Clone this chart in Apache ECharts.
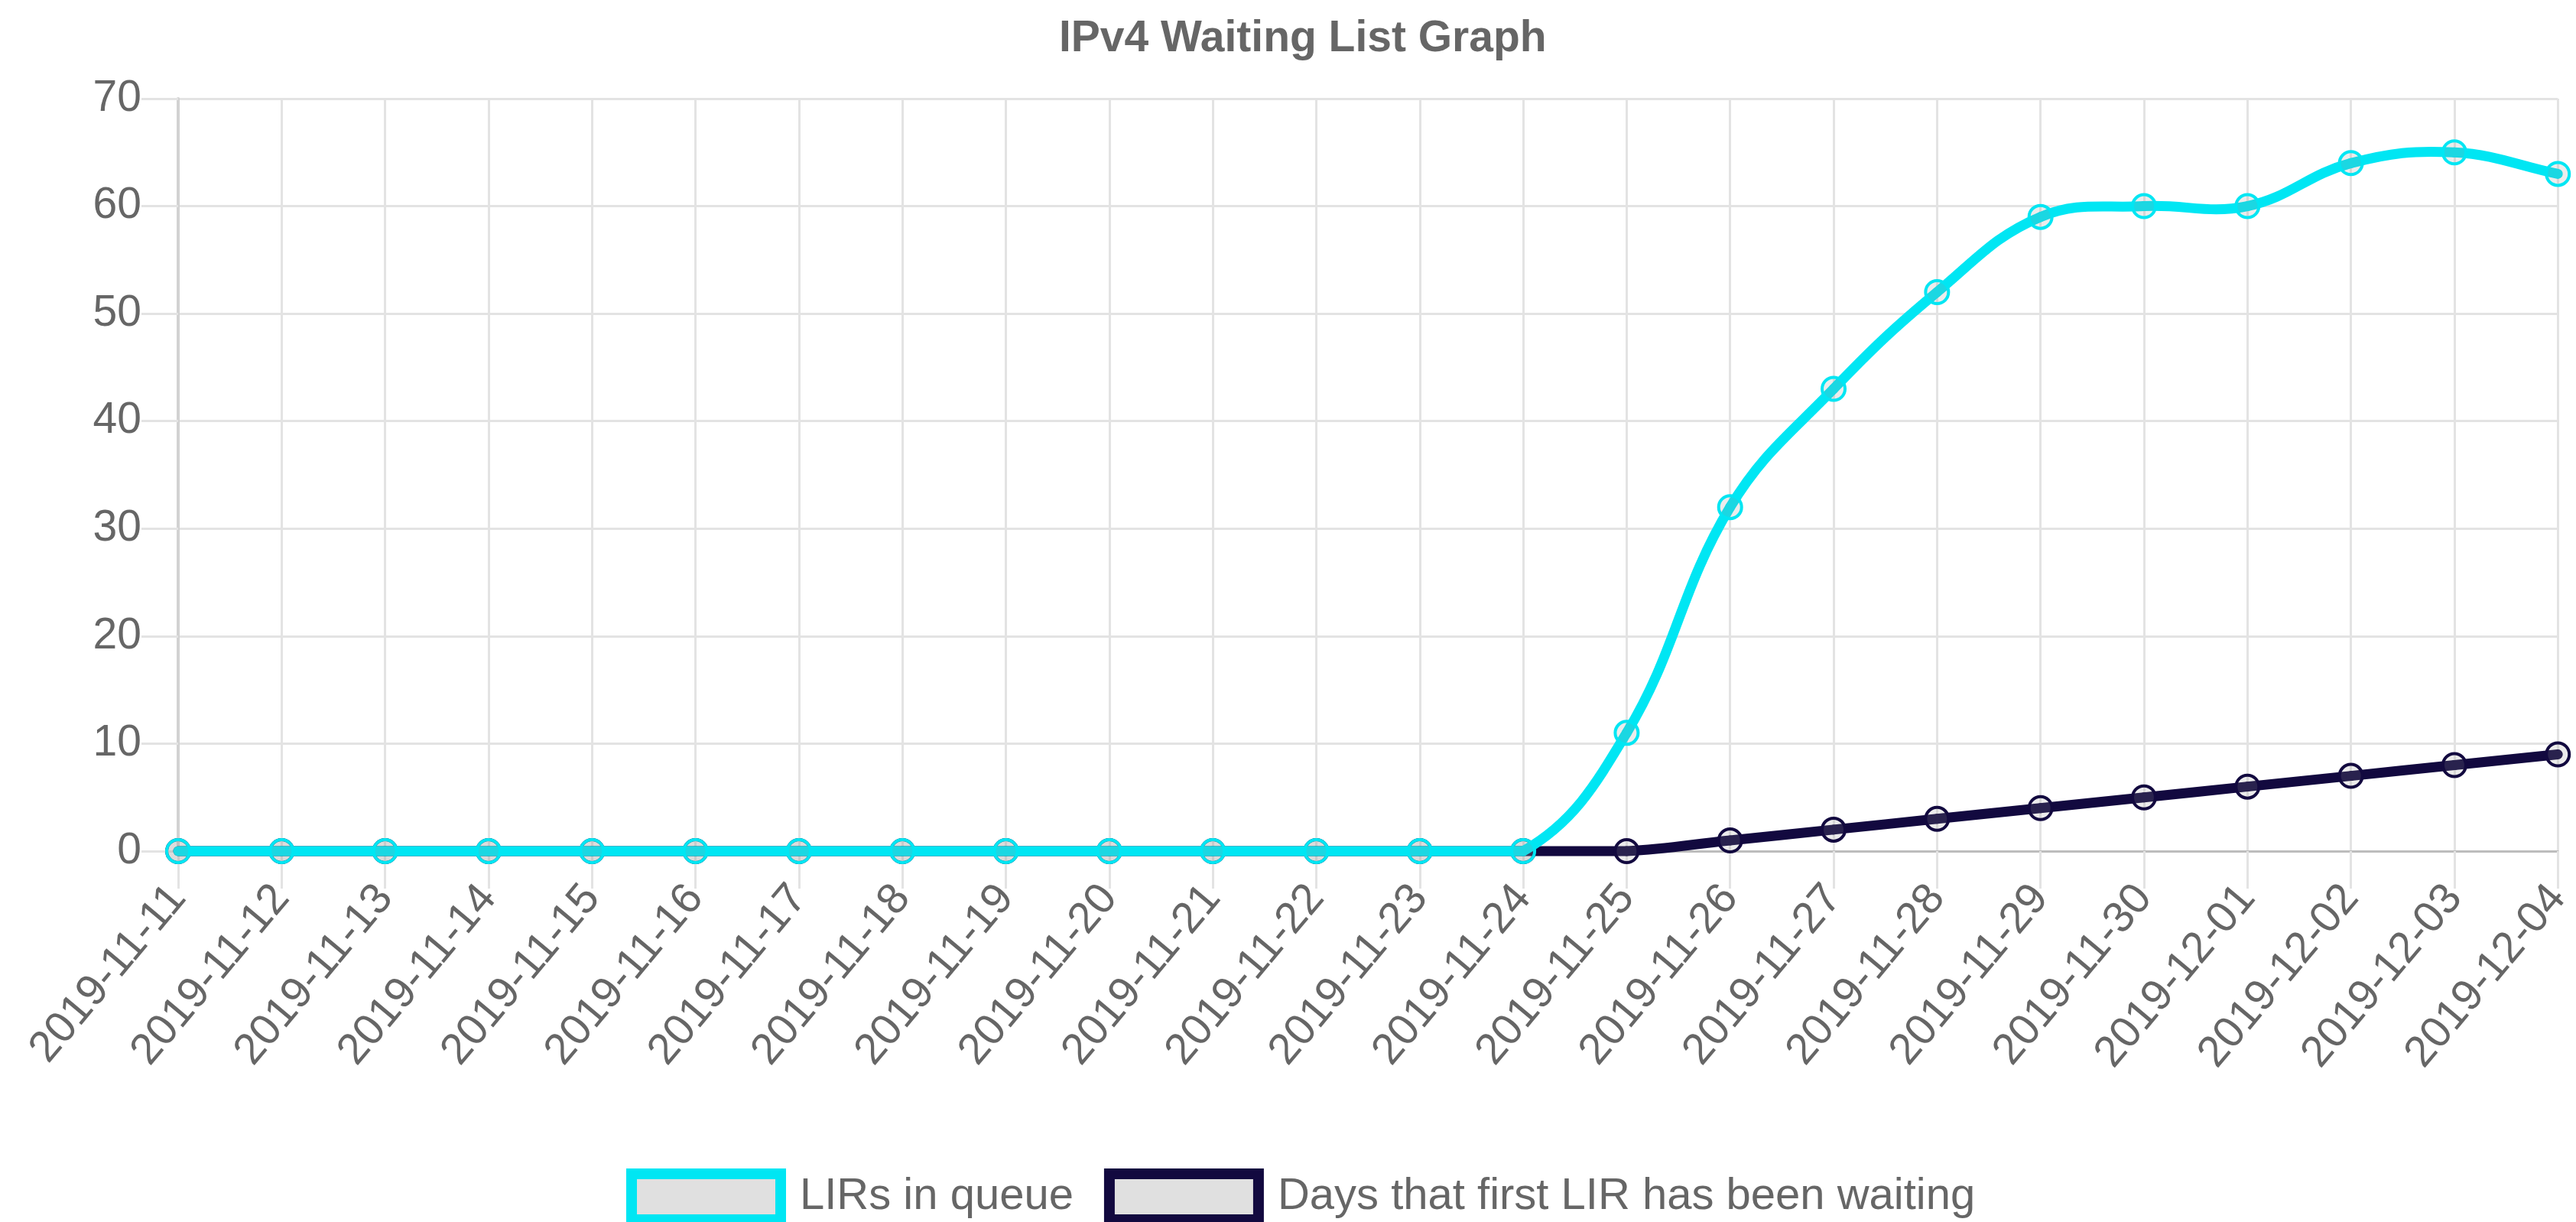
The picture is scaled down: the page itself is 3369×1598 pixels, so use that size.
<!DOCTYPE html>
<html>
<head>
<meta charset="utf-8">
<script src="https://cdn.jsdelivr.net/npm/echarts@6/dist/echarts.min.js"></script>
<style>
html,body{margin:0;padding:0;background:#fff;}
#chart{width:3369px;height:1598px;}
</style>
</head>
<body>
<div id="chart"></div>
<script>
const categories = ["2019-11-11","2019-11-12","2019-11-13","2019-11-14","2019-11-15","2019-11-16","2019-11-17","2019-11-18","2019-11-19","2019-11-20","2019-11-21","2019-11-22","2019-11-23","2019-11-24","2019-11-25","2019-11-26","2019-11-27","2019-11-28","2019-11-29","2019-11-30","2019-12-01","2019-12-02","2019-12-03","2019-12-04"];
const lirsInQueue = [0,0,0,0,0,0,0,0,0,0,0,0,0,0,11,32,43,52,59,60,60,64,65,63];
const daysWaiting = [0,0,0,0,0,0,0,0,0,0,0,0,0,0,0,1,2,3,4,5,6,7,8,9];
const yTicks = [0,10,20,30,40,50,60,70];

const CYAN = '#00e6f3';
const DARK = '#12093f';
const FONT = '"Liberation Sans", Arial, Helvetica, sans-serif';
const GRID = '#e3e3e3';
const TENSION = 0.4;
const LINE_W = 13;

// Chart.js-style cubic spline segment (tension 0.4, control points capped to the plot area)
function splineRenderer(values, color) {
  return function (params, api) {
    const i = params.dataIndex;
    const n = values.length;
    if (i >= n - 1) return null;
    const P = k => api.coord([k, values[k]]);
    const lo = api.coord([0, yTicks[0]]), hi = api.coord([n - 1, yTicks[yTicks.length - 1]]);
    const cap = p => [Math.min(Math.max(p[0], lo[0]), hi[0]), Math.min(Math.max(p[1], hi[1]), lo[1])];
    const dist = (a, b) => Math.hypot(a[0] - b[0], a[1] - b[1]);
    function ctrl(k) {
      const cur = P(k);
      const prev = k > 0 ? P(k - 1) : cur;
      const next = k < n - 1 ? P(k + 1) : cur;
      const d01 = dist(prev, cur), d12 = dist(cur, next);
      const s = d01 + d12;
      const fa = TENSION * (s ? d01 / s : 0), fb = TENSION * (s ? d12 / s : 0);
      return {
        before: cap([cur[0] - fa * (next[0] - prev[0]), cur[1] - fa * (next[1] - prev[1])]),
        after: cap([cur[0] + fb * (next[0] - prev[0]), cur[1] + fb * (next[1] - prev[1])])
      };
    }
    const a = P(i), b = P(i + 1);
    const ca = ctrl(i).after, cb = ctrl(i + 1).before;
    return {
      type: 'bezierCurve',
      shape: {x1: a[0], y1: a[1], x2: b[0], y2: b[1], cpx1: ca[0], cpy1: ca[1], cpx2: cb[0], cpy2: cb[1]},
      style: {stroke: color, lineWidth: LINE_W, fill: null, lineCap: 'round', lineJoin: 'round'},
      silent: true
    };
  };
}

const chart = echarts.init(document.getElementById('chart'), null, {renderer:'canvas'});
chart.setOption({
  backgroundColor:'#ffffff',
  animation:false,
  title:{
    text:'IPv4 Waiting List Graph',
    left:1380,
    top:18,
    textStyle:{fontFamily:FONT,fontSize:57,fontWeight:'bold',color:'#666666'}
  },
  legend:{
    left:819, top:1528,
    padding:0,
    icon:'rect',
    itemWidth:195, itemHeight:60,
    itemGap:40,
    textStyle:{fontFamily:FONT,fontSize:58,color:'#666666',padding:[0,0,0,20]},
    data:[
      {name:'LIRs in queue', itemStyle:{color:'#e0e0e0',borderColor:CYAN,borderWidth:14}},
      {name:'Days that first LIR has been waiting', itemStyle:{color:'#e0e0e0',borderColor:DARK,borderWidth:14}}
    ]
  },
  grid:{left:233,right:23,top:129,bottom:485,containLabel:false},
  xAxis:{
    type:'category',
    data:categories,
    boundaryGap:false,
    axisLine:{show:true,lineStyle:{color:'#bdbdbd',width:3}},
    axisTick:{show:true,length:49,interval:0,lineStyle:{color:GRID,width:3}},
    splitLine:{show:true,interval:0,lineStyle:{color:GRID,width:3}},
    axisLabel:{interval:0,rotate:50,margin:52,fontFamily:FONT,fontSize:57,color:'#666666'}
  },
  yAxis:{
    type:'value',
    min:yTicks[0], max:yTicks[yTicks.length-1], interval:10,
    axisLine:{show:true,lineStyle:{color:'#d2d2d2',width:4}},
    axisTick:{show:true,length:48,lineStyle:{color:GRID,width:3}},
    splitLine:{show:true,lineStyle:{color:GRID,width:3}},
    axisLabel:{margin:48,fontFamily:FONT,fontSize:57,color:'#666666'}
  },
  series:[
    {
      type:'custom',
      coordinateSystem:'cartesian2d',
      data:daysWaiting.map((v,i)=>[i,v]),
      encode:{x:0,y:1},
      renderItem:splineRenderer(daysWaiting, DARK),
      z:2, silent:true, clip:false
    },
    {
      name:'Days that first LIR has been waiting',
      type:'line',
      data:daysWaiting,
      z:3,
      symbol:'circle',
      symbolSize:30,
      showAllSymbol:true,
      lineStyle:{width:0,opacity:0},
      itemStyle:{color:'rgba(150,150,150,0.18)',borderColor:DARK,borderWidth:4}
    },
    {
      type:'custom',
      coordinateSystem:'cartesian2d',
      data:lirsInQueue.map((v,i)=>[i,v]),
      encode:{x:0,y:1},
      renderItem:splineRenderer(lirsInQueue, CYAN),
      z:4, silent:true, clip:false
    },
    {
      name:'LIRs in queue',
      type:'line',
      data:lirsInQueue,
      z:5,
      symbol:'circle',
      symbolSize:30,
      showAllSymbol:true,
      lineStyle:{width:0,opacity:0},
      itemStyle:{color:'rgba(150,150,150,0.18)',borderColor:CYAN,borderWidth:4}
    }
  ]
});
</script>
</body>
</html>
